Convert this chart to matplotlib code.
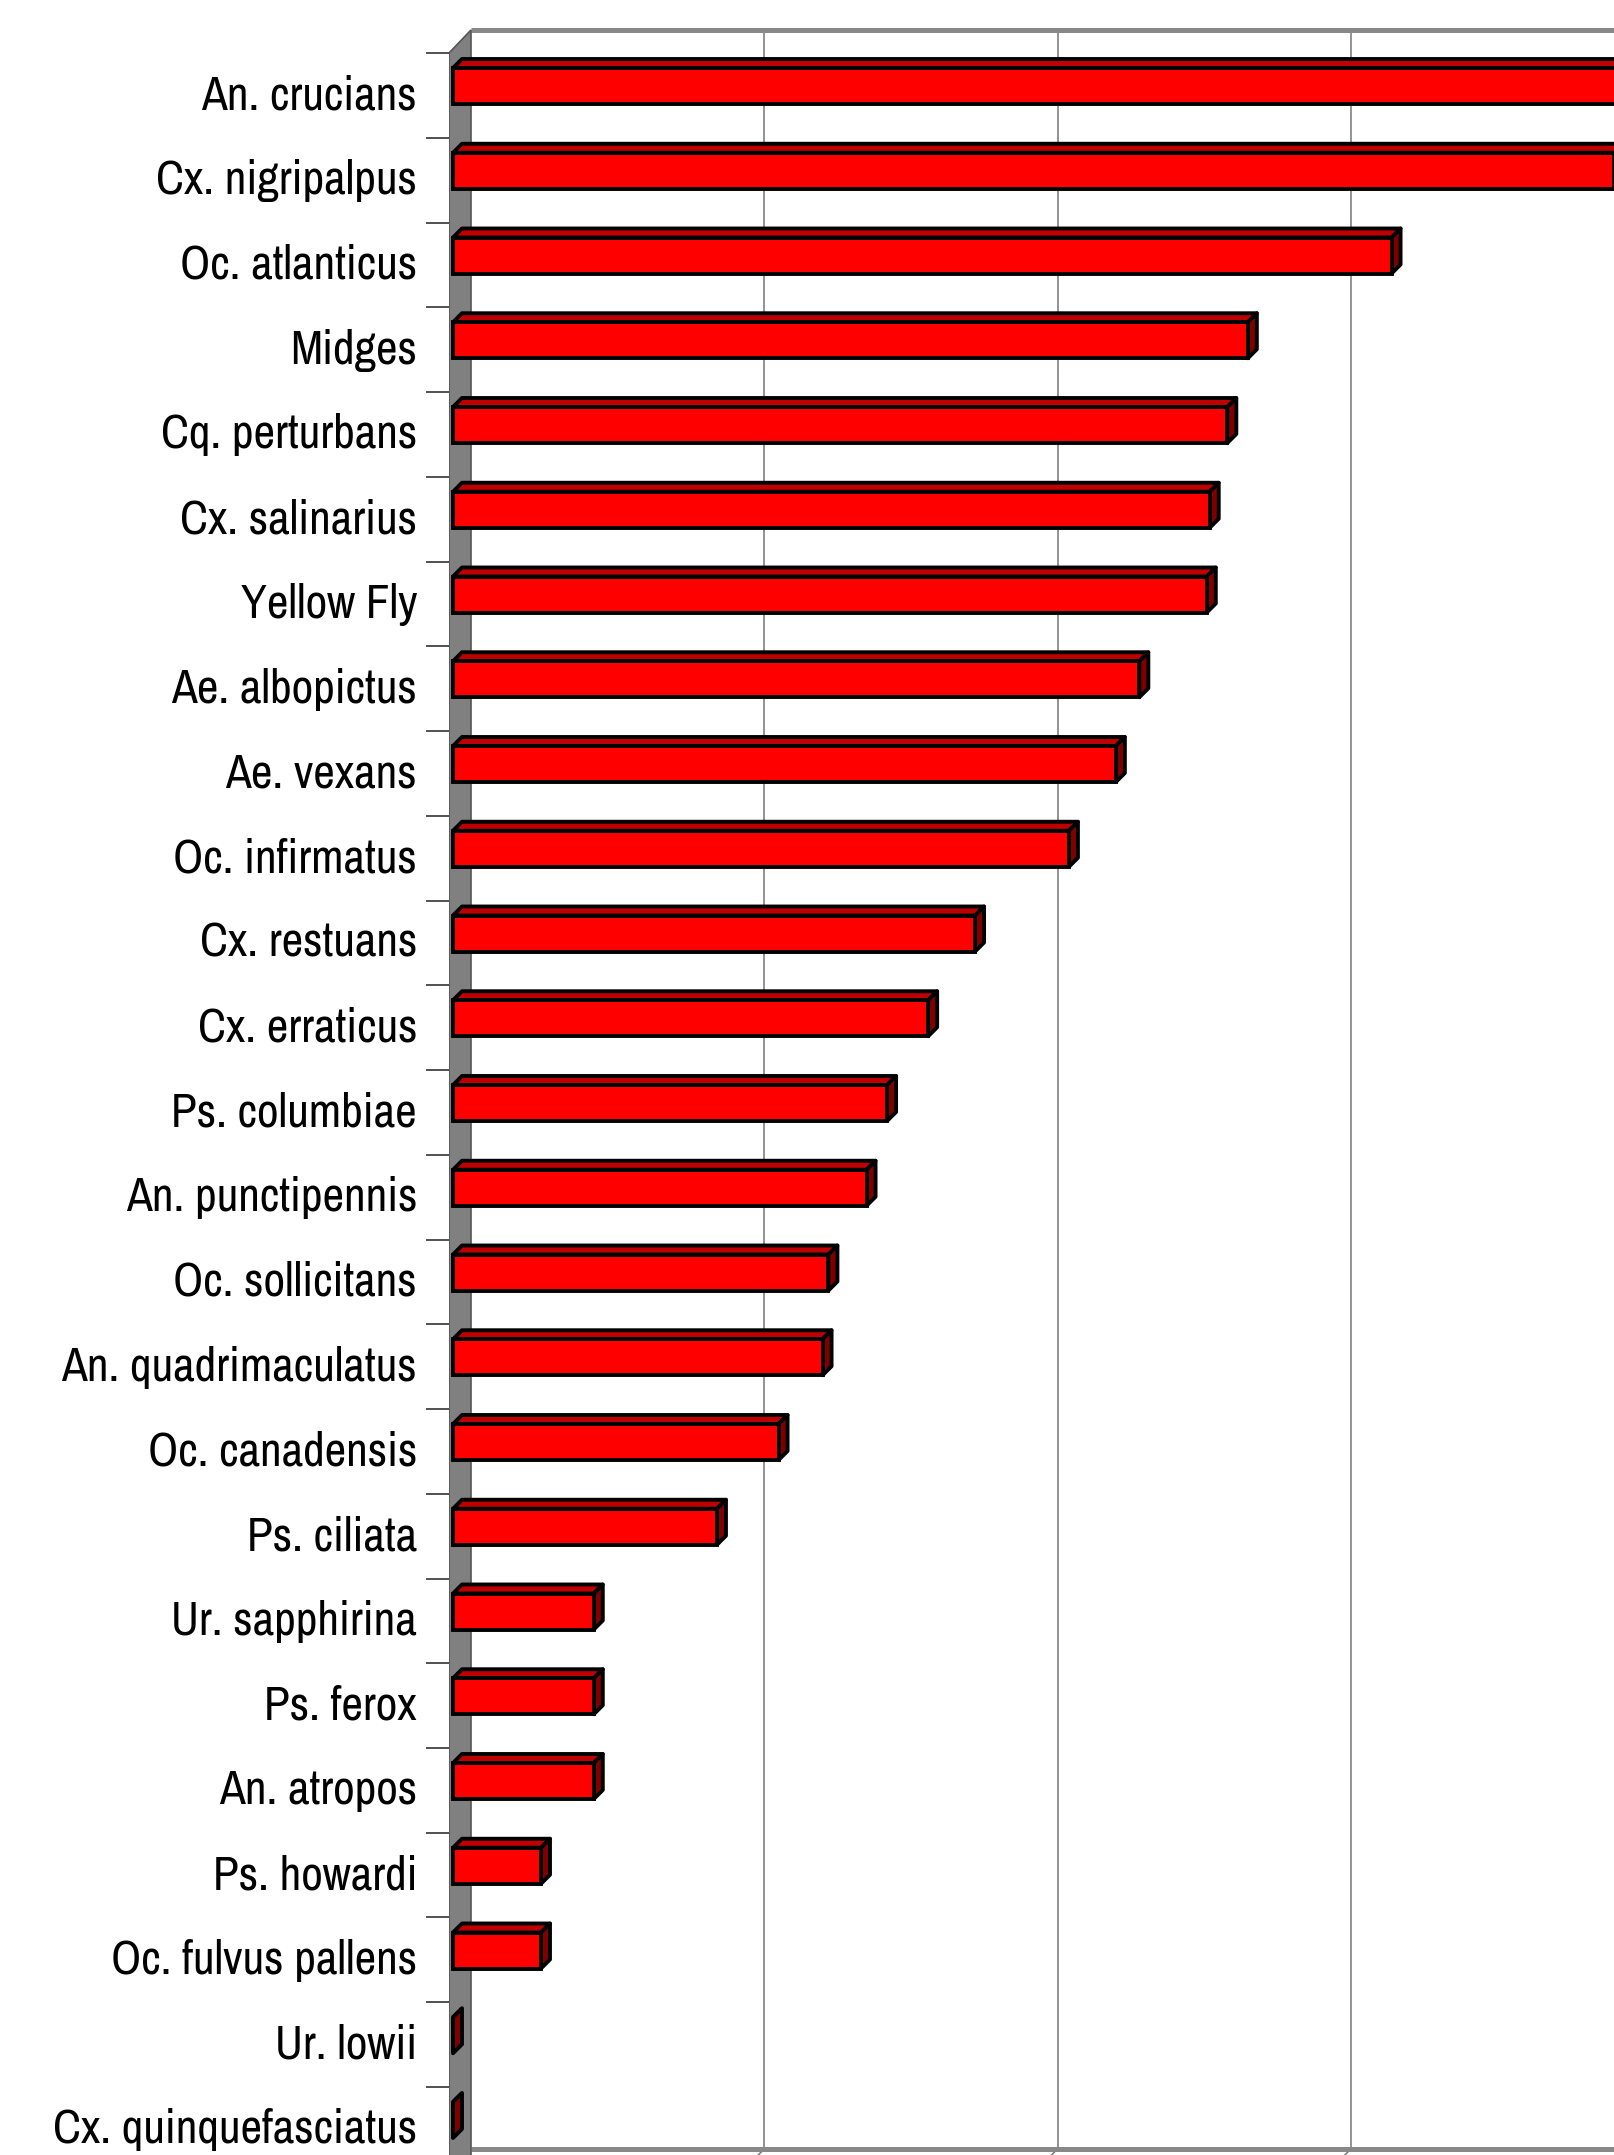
import numpy as np
import matplotlib.pyplot as plt
from matplotlib.patches import Polygon

species = ['An. crucians', 'Cx. nigripalpus', 'Oc. atlanticus', 'Midges',
           'Cq. perturbans', 'Cx. salinarius', 'Yellow Fly', 'Ae. albopictus',
           'Ae. vexans', 'Oc. infirmatus', 'Cx. restuans', 'Cx. erraticus',
           'Ps. columbiae', 'An. punctipennis', 'Oc. sollicitans',
           'An. quadrimaculatus', 'Oc. canadensis', 'Ps. ciliata',
           'Ur. sapphirina', 'Ps. ferox', 'An. atropos', 'Ps. howardi',
           'Oc. fulvus pallens', 'Ur. lowii', 'Cx. quinquefasciatus']
values = [44.0, 39.6, 32.0, 27.1, 26.4, 25.8, 25.7, 23.4, 22.6, 21.0, 17.8,
          16.2, 14.8, 14.1, 12.8, 12.6, 11.1, 9.0, 4.8, 4.8, 4.8, 3.0, 3.0,
          0.0, 0.0]
grid_step = 10

W, H = 1615, 2155
fig = plt.figure(figsize=(W / 100, H / 100), dpi=100)

# layout, in pixels of the output
x_front = 449      # front edge of the left wall
x_zero = 453       # where the bar fronts start
px_unit = 29.33    # pixels per value unit
cat_px = 84.75     # pixels per category
top_px = 53        # first category boundary
wall_dx, wall_dy = 22, 23
bar_dx, bar_dy = 9, 9

n = len(species)
ax_h = top_px + n * cat_px
ax = fig.add_axes([x_front / W, (H - ax_h) / H, 1 - x_front / W, ax_h / H])
xmin = (x_front - x_zero) / px_unit
xmax = (W - x_zero) / px_unit
ax.set_xlim(xmin, xmax)
ax.set_ylim(n - 0.5, -0.5 - top_px / cat_px)
for s in ax.spines.values():
    s.set_visible(False)

# back wall / floor
xb = xmin + wall_dx / px_unit
yb_top = -0.5 - wall_dy / cat_px
yb_bot = n - 0.5 - wall_dy / cat_px
for k in range(1, 5):
    gx = xb + grid_step * k
    ax.plot([gx, gx], [yb_top, yb_bot], color='#808080', lw=1.2, zorder=1)
    ax.plot([gx, gx - wall_dx / px_unit], [yb_bot, n - 0.5], color='#808080', lw=1.2, zorder=1)
ax.plot([xb, xmax], [yb_top, yb_top], color='#888888', lw=3.6, zorder=2,
        solid_capstyle='butt')
ax.plot([xb, xmax], [yb_bot, yb_bot], color='#888888', lw=3.6, zorder=2,
        solid_capstyle='butt')
wall = Polygon([(xmin, -0.5), (xb, yb_top), (xb, n + 1), (xmin, n + 1)],
               closed=True, facecolor='#808080', edgecolor='#555555', lw=1.2, zorder=2)
ax.add_patch(wall)

# bars
h = 36 / cat_px
yc = np.arange(n) - 0.5 + 33 / cat_px
ddx = bar_dx / px_unit
ddy = bar_dy / cat_px
for y, v in zip(yc, values):
    top = y - h / 2
    bot = y + h / 2
    ax.add_patch(Polygon([(0, top), (v, top), (v + ddx, top - ddy), (ddx, top - ddy)],
                         closed=True, facecolor='#C00000', edgecolor='black',
                         lw=2.8, joinstyle='round', zorder=3))
    ax.add_patch(Polygon([(v, top), (v + ddx, top - ddy), (v + ddx, bot - ddy), (v, bot)],
                         closed=True, facecolor='#800000', edgecolor='black',
                         lw=2.8, joinstyle='round', zorder=3))
ax.barh(yc, values, height=h, left=0, color='#FF0000', edgecolor='black',
        linewidth=2.8, zorder=4)

# category ticks and labels
ax.set_xticks([])
ax.set_yticks(np.arange(n + 1) - 0.5)
ax.set_yticklabels([])
ax.set_yticks(np.arange(n) - 0.04, minor=True)
ax.set_yticklabels(species, minor=True, fontsize=34,
                   family=['Archivo Narrow', 'PT Sans Narrow', 'DejaVu Sans'])
ax.tick_params(axis='y', which='major', length=16.5, width=1.2, color='#333333')
ax.tick_params(axis='y', which='minor', length=0, pad=23)
ax.patch.set_alpha(0)

fig.savefig('out.png', dpi=100)
